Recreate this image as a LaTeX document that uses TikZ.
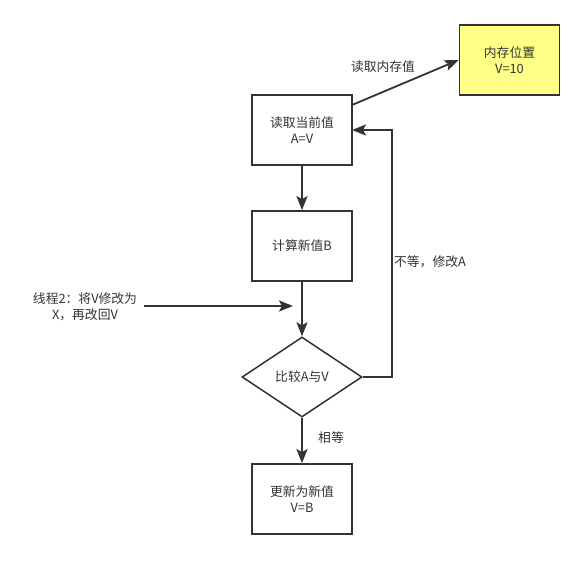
\documentclass[tikz,border=0pt]{standalone}
\usepackage{fontspec}
\newfontfamily\cjk{Noto Sans CJK SC}
\usetikzlibrary{arrows.meta,shapes.geometric}
\definecolor{ln}{HTML}{333333}
\definecolor{yel}{HTML}{FFFF88}
\begin{document}
\begin{tikzpicture}[x=1pt,y=-1pt,
  every node/.style={font=\cjk\fontsize{12.8}{16}\selectfont, text=ln, align=center},
  box/.style={draw=ln, line width=1.8pt, minimum width=100pt, minimum height=70pt, inner sep=0pt},
  dia/.style={draw=ln, line width=1.5pt, diamond, aspect=1.5, minimum width=120pt, minimum height=80pt, inner sep=0pt},
  conn/.style={draw=ln, line width=1.8pt, -{Stealth[length=14pt,width=11pt,inset=3pt]}},
  lbl/.style={fill=none, inner sep=1pt}]
\useasboundingbox (0,0) rectangle (585,561);
\node[box, fill=yel] (mem) at (509.5,60) {内存位置\\V=10};
\node[box] (read) at (302,130) {读取当前值\\A=V};
\node[box] (calc) at (302,246) {计算新值B};
\node[dia] (cmp) at (302,377) {};
\node at (302,377) {比较A与V};
\node[box] (upd) at (302,499) {更新为新值\\V=B};
\coordinate (rs) at (352,105);
\coordinate (ri) at (352,130);
\coordinate (fb) at (392,377);
\coordinate (fbt) at (392,130);
\coordinate (ts) at (144,306);
\coordinate (te) at (293,306);
\draw[conn] (rs) -- (mem.west);
\node[lbl] (l1) at (383,67) {读取内存值};
\draw[conn] (read.south) -- (calc.north);
\draw[conn] (calc.south) -- (cmp.north);
\draw[conn] (cmp.south) -- (upd.north);
\node[lbl] (l2) at (331,438) {相等};
\draw[conn] (cmp.east) -- (fb) -- (fbt) -- (ri);
\node[lbl] (l3) at (430,262) {不等，修改A};
\draw[conn] (ts) -- (te);
\node[lbl] (l4) at (85,307) {线程2：将V修改为\\X，再改回V};
\end{tikzpicture}
\end{document}
